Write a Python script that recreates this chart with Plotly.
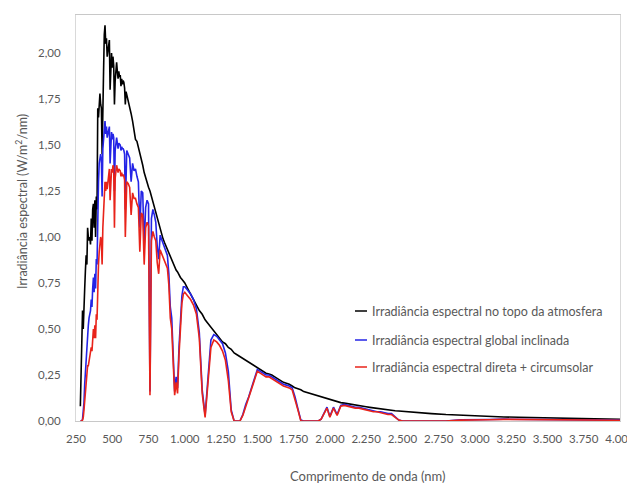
import plotly.graph_objects as go

wavelength_nm = [
    280, 285, 290, 295, 300, 305, 310, 315, 320, 325, 330, 335, 340, 345, 350, 355,
    360, 365, 370, 375, 380, 385, 390, 395, 400, 405, 410, 415, 420, 425, 430, 435,
    440, 445, 450, 455, 460, 465, 470, 475, 480, 485, 490, 495, 500, 505, 510, 515,
    520, 525, 530, 535, 540, 545, 550, 555, 560, 565, 570, 575, 580, 585, 590, 595,
    600, 610, 620, 630, 640, 650, 660, 670, 680, 690,
    700, 710, 720, 730, 740, 750, 760, 770, 780, 790,
    800, 810, 820, 830, 840, 850, 860, 870, 880, 890,
    900, 910, 920, 930, 940, 950, 960, 970, 980, 990, 1000,
    1020, 1040, 1060, 1080, 1100, 1120, 1140, 1160, 1180, 1200,
    1220, 1240, 1260, 1280, 1300, 1320, 1340, 1360, 1380, 1400,
    1420, 1440, 1460, 1480, 1500, 1520, 1540, 1560, 1580, 1600,
    1620, 1640, 1660, 1680, 1700, 1720, 1740, 1760, 1780, 1800,
    1820, 1840, 1860, 1880, 1900, 1920, 1940, 1960, 1980, 2000,
    2025, 2050, 2075, 2100, 2125, 2150, 2175, 2200, 2225, 2250,
    2275, 2300, 2325, 2350, 2375, 2400, 2425, 2450, 2475, 2500,
    2600, 2700, 2800, 2900, 3000, 3100, 3200, 3300, 3400, 3500,
    3600, 3700, 3800, 3900, 4000,
]

topo_atmosfera = [
    0.08, 0.30, 0.55, 0.60, 0.50, 0.70, 0.72, 0.82, 0.90, 0.85, 1.05, 1.00, 0.98, 1.00, 0.96, 1.10,
    0.98, 1.15, 1.18, 1.05, 1.20, 1.00, 1.22, 1.15, 1.70, 1.65, 1.75, 1.78, 1.72, 1.70, 1.45, 1.80,
    1.90, 2.10, 2.15, 2.05, 2.08, 1.98, 2.02, 2.05, 2.07, 1.80, 1.97, 2.00, 1.92, 1.98, 1.93, 1.72,
    1.85, 1.92, 1.95, 1.90, 1.86, 1.90, 1.87, 1.88, 1.82, 1.86, 1.83, 1.85, 1.84, 1.81, 1.72, 1.79,
    1.77, 1.75, 1.71, 1.67, 1.63, 1.59, 1.53, 1.52, 1.49, 1.45,
    1.42, 1.39, 1.35, 1.32, 1.29, 1.27, 1.25, 1.22, 1.19, 1.16,
    1.13, 1.10, 1.08, 1.05, 1.02, 0.99, 0.97, 0.95, 0.93, 0.91,
    0.89, 0.87, 0.86, 0.84, 0.82, 0.81, 0.79, 0.78, 0.77, 0.76, 0.75,
    0.72, 0.69, 0.66, 0.63, 0.60, 0.58, 0.55, 0.53, 0.51, 0.49,
    0.47, 0.45, 0.43, 0.42, 0.40, 0.39, 0.37, 0.36, 0.35, 0.34,
    0.33, 0.32, 0.31, 0.30, 0.29, 0.28, 0.27, 0.26, 0.255, 0.25,
    0.24, 0.23, 0.22, 0.21, 0.205, 0.20, 0.19, 0.18, 0.175, 0.17,
    0.16, 0.155, 0.15, 0.145, 0.14, 0.135, 0.13, 0.125, 0.12, 0.115,
    0.11, 0.105, 0.10, 0.097, 0.093, 0.09, 0.086, 0.083, 0.08, 0.077,
    0.074, 0.071, 0.068, 0.066, 0.063, 0.061, 0.058, 0.056, 0.054, 0.052,
    0.045, 0.040, 0.035, 0.031, 0.028, 0.025, 0.022, 0.020, 0.018, 0.016,
    0.014, 0.013, 0.011, 0.010, 0.009,
]

global_inclinada = [
    0.0, 0.0, 0.0, 0.01, 0.04, 0.10, 0.20, 0.28, 0.35, 0.42, 0.52, 0.52, 0.56, 0.58, 0.60, 0.66,
    0.62, 0.72, 0.78, 0.70, 0.80, 0.72, 0.88, 0.85, 1.22, 1.30, 1.40, 1.45, 1.45, 1.42, 1.22, 1.48,
    1.54, 1.60, 1.63, 1.56, 1.60, 1.54, 1.56, 1.58, 1.60, 1.40, 1.55, 1.57, 1.53, 1.56, 1.54, 1.25,
    1.47, 1.52, 1.54, 1.51, 1.48, 1.51, 1.50, 1.50, 1.47, 1.49, 1.48, 1.48, 1.47, 1.45, 1.15, 1.45,
    1.47, 1.45, 1.43, 1.30, 1.40, 1.36, 1.37, 1.33, 1.30, 1.05,
    1.25, 1.24, 0.95, 1.16, 1.20, 1.18, 0.16, 1.10, 1.15, 1.12,
    1.08, 0.95, 0.88, 1.01, 0.99, 0.96, 0.94, 0.92, 0.90, 0.80,
    0.62, 0.56, 0.40, 0.16, 0.24, 0.18, 0.40, 0.56, 0.68, 0.73, 0.73,
    0.71, 0.69, 0.66, 0.61, 0.48, 0.17, 0.03, 0.23, 0.44, 0.47,
    0.46, 0.44, 0.42, 0.37, 0.27, 0.06, 0.0, 0.0, 0.0, 0.035,
    0.09, 0.13, 0.18, 0.24, 0.28, 0.27, 0.26, 0.25, 0.25, 0.24,
    0.23, 0.22, 0.21, 0.20, 0.195, 0.19, 0.18, 0.13, 0.065, 0.005,
    0.0, 0.0, 0.0, 0.0, 0.0, 0.0, 0.01, 0.045, 0.075, 0.025,
    0.075, 0.035, 0.085, 0.09, 0.085, 0.08, 0.075, 0.075, 0.07, 0.065,
    0.06, 0.055, 0.05, 0.05, 0.045, 0.04, 0.04, 0.025, 0.005, 0.0,
    0.0, 0.0, 0.0, 0.006, 0.009, 0.008, 0.010, 0.009, 0.008, 0.007,
    0.006, 0.007, 0.006, 0.005, 0.005,
]

direta_circumsolar = [
    0.0, 0.0, 0.0, 0.005, 0.02, 0.06, 0.12, 0.16, 0.20, 0.24, 0.30, 0.30, 0.33, 0.35, 0.36, 0.40,
    0.38, 0.45, 0.50, 0.45, 0.52, 0.45, 0.58, 0.55, 0.82, 0.85, 0.92, 0.98, 1.00, 0.98, 0.85, 1.05,
    1.12, 1.22, 1.30, 1.25, 1.30, 1.26, 1.30, 1.34, 1.37, 1.20, 1.33, 1.37, 1.35, 1.39, 1.38, 1.05,
    1.32, 1.36, 1.39, 1.37, 1.35, 1.37, 1.36, 1.36, 1.33, 1.35, 1.33, 1.34, 1.33, 1.31, 1.00, 1.29,
    1.30, 1.29, 1.27, 1.12, 1.24, 1.21, 1.21, 1.18, 1.16, 0.92,
    1.13, 1.12, 0.85, 1.05, 1.08, 1.06, 0.14, 0.98, 1.03, 1.00,
    0.98, 0.86, 0.80, 0.93, 0.91, 0.89, 0.87, 0.85, 0.83, 0.74,
    0.56, 0.50, 0.35, 0.14, 0.21, 0.15, 0.36, 0.52, 0.64, 0.69, 0.70,
    0.68, 0.66, 0.63, 0.58, 0.45, 0.15, 0.02, 0.20, 0.40, 0.44,
    0.43, 0.41, 0.38, 0.33, 0.22, 0.05, 0.0, 0.0, 0.0, 0.03,
    0.08, 0.12, 0.17, 0.22, 0.27, 0.26, 0.25, 0.24, 0.24, 0.23,
    0.22, 0.21, 0.20, 0.19, 0.185, 0.18, 0.17, 0.12, 0.06, 0.0,
    0.0, 0.0, 0.0, 0.0, 0.0, 0.0, 0.01, 0.04, 0.07, 0.02,
    0.07, 0.03, 0.08, 0.085, 0.08, 0.075, 0.07, 0.07, 0.065, 0.06,
    0.055, 0.05, 0.05, 0.045, 0.04, 0.035, 0.035, 0.02, 0.005, 0.0,
    0.0, 0.0, 0.0, 0.005, 0.008, 0.007, 0.009, 0.008, 0.007, 0.006,
    0.005, 0.006, 0.005, 0.004, 0.004,
]

x_tick_vals = [250, 500, 750, 1000, 1250, 1500, 1750, 2000, 2250, 2500, 2750, 3000, 3250, 3500, 3750, 4000]
x_tick_text = ["250", "500", "750", "1.000", "1.250", "1.500", "1.750", "2.000", "2.250",
               "2.500", "2.750", "3.000", "3.250", "3.500", "3.750", "4.000"]
y_tick_vals = [0, 0.25, 0.5, 0.75, 1.0, 1.25, 1.5, 1.75, 2.0]
y_tick_text = ["0,00", "0,25", "0,50", "0,75", "1,00", "1,25", "1,50", "1,75", "2,00"]

series_names = [
    "Irradiância espectral no topo da atmosfera",
    "Irradiância espectral global inclinada",
    "Irradiância espectral direta + circumsolar",
]
series_colors = ["#000000", "#2424e6", "#e8231a"]
series_values = [topo_atmosfera, global_inclinada, direta_circumsolar]

FONT = "Lato, Open Sans, sans-serif"
OFF = 8  # page body margin of the browser
W, H = 635 - OFF, 487 - OFF
PL, PR, PT, PB = 76, 620, 15, 421  # plot area in page pixels
ML, MT = PL - OFF, PT - OFF
MR = W + OFF - PR
MB = H + OFF - PB
pw, ph = PR - PL, PB - PT

fig = go.Figure()
for name, col, vals in zip(series_names, series_colors, series_values):
    fig.add_trace(go.Scatter(x=wavelength_nm, y=vals, mode="lines", name=name,
                             line=dict(color=col, width=1.6), showlegend=False))

fig.update_layout(
    width=W, height=H,
    margin=dict(l=ML, r=MR, t=MT, b=MB),
    paper_bgcolor="white", plot_bgcolor="white",
    font=dict(family=FONT, size=11, color="#595959"),
    xaxis=dict(range=[250, 4000], tickvals=x_tick_vals, ticktext=x_tick_text,
               showgrid=False, zeroline=False, showline=True, linecolor="#c8c8c8",
               linewidth=1, mirror=True, ticks="", ticklabelstandoff=7,
               ticklabeloverflow="allow", automargin=False,
               tickfont=dict(size=11.5, color="#595959")),
    yaxis=dict(range=[0, ph / 184.0], tickvals=y_tick_vals, ticktext=y_tick_text,
               showgrid=False, zeroline=False, showline=True, linecolor="#d9d9d9",
               linewidth=1, mirror=True, ticks="", ticklabelstandoff=12,
               automargin=False,
               tickfont=dict(size=11.5, color="#595959")),
)

def px_x(px):
    return (px - PL) / pw

def px_y(py):
    return (PB - py) / ph

annotations = [
    dict(text="Comprimento de onda (nm)", x=px_x(368), y=px_y(476), xref="paper", yref="paper",
         showarrow=False, font=dict(size=13, color="#595959", family=FONT),
         xanchor="center", yanchor="middle"),
    dict(text="Irradiância espectral (W/m<sup>2</sup>/nm)", x=px_x(21), y=px_y(202),
         xref="paper", yref="paper", showarrow=False, textangle=-90,
         font=dict(size=12.5, color="#595959", family=FONT), xanchor="center", yanchor="middle"),
]
shapes = []
legend_y = [311, 340, 367]
for name, col, ly in zip(series_names, series_colors, legend_y):
    shapes.append(dict(type="line", xref="paper", yref="paper", x0=px_x(355), x1=px_x(367),
                       y0=px_y(ly), y1=px_y(ly), line=dict(color=col, width=1.5)))
    annotations.append(dict(text=name, x=px_x(370), y=px_y(ly), xref="paper", yref="paper",
                            showarrow=False, xanchor="left", yanchor="middle",
                            font=dict(size=12.5, color="#595959", family=FONT)))

fig.update_layout(annotations=annotations, shapes=shapes)
fig.write_html("out.html")
